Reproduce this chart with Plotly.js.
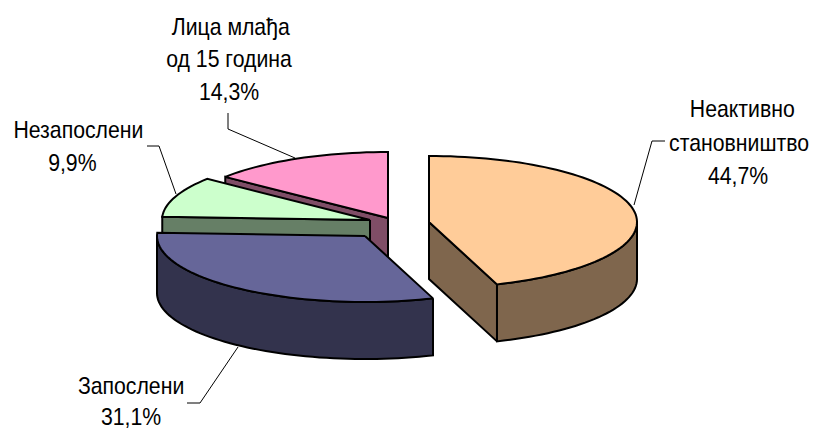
<!DOCTYPE html>
<html><head><meta charset="utf-8">
<script src="https://cdn.plot.ly/plotly-3.0.1.min.js"></script>
<style>html,body{margin:0;padding:0;background:#fff}</style></head>
<body><div id="chart" style="width:814px;height:430px"></div>
<script>
// Data, in clockwise order from 12 o'clock
const categories = ["Неактивно становништво", "Запослени", "Незапослени", "Лица млађа од 15 година"];
const shares = [44.7, 31.1, 9.9, 14.3];

// Label text lines
const labelLines = [["Неактивно", "становништво"], ["Запослени"], ["Незапослени"], ["Лица млађа", "од 15 година"]];

// Styling and projection
const topColors = ["#FFCC99", "#666699", "#CCFFCC", "#FF99CC"];
const sideColors = ["#7F664D", "#33334D", "#667F66", "#7F4D66"];
const apexX = [429, 365, 370, 388];
const apexY = [222, 236, 220, 218];
const radiusX = 208, radiusY = 66, depth = 57;
const drawOrder = [3, 2, 0, 1];
const labelX = [[742, 739, 738], [131, 131], [78, 72], [231, 229, 229]];
const labelY = [[108, 142, 175], [385, 416], [129, 162], [26, 58, 91]];
const leaderX = [[665, 652, 634], [187, 200, 238], [147, 159, 176], [228, 228, 295]];
const leaderY = [[141, 141, 205], [403, 403, 347], [146, 146, 194], [113, 129, 158]];
const textSqueeze = 0.885;

const total = shares.reduce((a, b) => a + b, 0);
let cum = 0;
const spans = shares.map(v => { const s = [cum, cum + v * 360 / total]; cum = s[1]; return s; });
const rad = d => d * Math.PI / 180;
const rimX = (i, d) => apexX[i] + radiusX * Math.sin(rad(d));
const rimY = (i, d) => apexY[i] - radiusY * Math.cos(rad(d));
const arc = (a, b) => { const n = Math.max(2, Math.ceil((b - a) / 2)), o = []; for (let k = 0; k <= n; k++) o.push(a + (b - a) * k / n); return o; };
const poly = (xs, ys, color) => ({ type: "scatter", mode: "lines", x: xs.concat(xs[0]), y: ys.concat(ys[0]), fill: "toself", fillcolor: color, line: { color: "#000", width: 2, simplify: false }, hoverinfo: "skip", showlegend: false });

const traces = [];
drawOrder.forEach(i => {
  const [a0, a1] = spans[i];
  const face = d => poly([apexX[i], rimX(i, d), rimX(i, d), apexX[i]], [apexY[i], rimY(i, d), rimY(i, d) + depth, apexY[i] + depth], sideColors[i]);
  if (Math.sin(rad(a0)) < -1e-6) traces.push(face(a0));
  if (Math.sin(rad(a1)) > 1e-6) traces.push(face(a1));
  const w0 = Math.max(a0, 90), w1 = Math.min(a1, 270);
  if (w1 > w0) {
    const ds = arc(w0, w1);
    traces.push(poly(ds.map(d => rimX(i, d)).concat(ds.slice().reverse().map(d => rimX(i, d))),
      ds.map(d => rimY(i, d)).concat(ds.slice().reverse().map(d => rimY(i, d) + depth)), sideColors[i]));
  }
  const ds = arc(a0, a1);
  traces.push(poly([apexX[i]].concat(ds.map(d => rimX(i, d))), [apexY[i]].concat(ds.map(d => rimY(i, d))), topColors[i]));
});
leaderX.forEach((xs, i) => traces.push({ type: "scatter", mode: "lines", x: xs, y: leaderY[i], line: { color: "#000", width: 1 }, hoverinfo: "skip", showlegend: false }));

const annotations = [];
categories.forEach((c, i) => {
  const lines = labelLines[i].concat(shares[i].toFixed(1).replace(".", ",") + "%");
  lines.forEach((t, k) => annotations.push({ x: labelX[i][k], y: labelY[i][k], xref: "x", yref: "y", text: t, showarrow: false, xanchor: "center", yanchor: "middle", font: { family: "Liberation Sans, Arial, sans-serif", size: 24, color: "#000" } }));
});

Plotly.newPlot("chart", traces, {
  width: 814, height: 430, margin: { l: 0, r: 0, t: 0, b: 0 }, paper_bgcolor: "#fff", plot_bgcolor: "#fff", showlegend: false,
  xaxis: { range: [0, 814], visible: false, fixedrange: true },
  yaxis: { range: [430, 0], visible: false, fixedrange: true },
  annotations
}, { staticPlot: true, displayModeBar: false }).then(gd => {
  gd.querySelectorAll(".annotation-text").forEach(t => {
    const b = t.getBBox(), cx = b.x + b.width / 2;
    t.setAttribute("transform", `translate(${cx},0) scale(${textSqueeze},1) translate(${-cx},0)`);
  });
});
</script></body></html>
